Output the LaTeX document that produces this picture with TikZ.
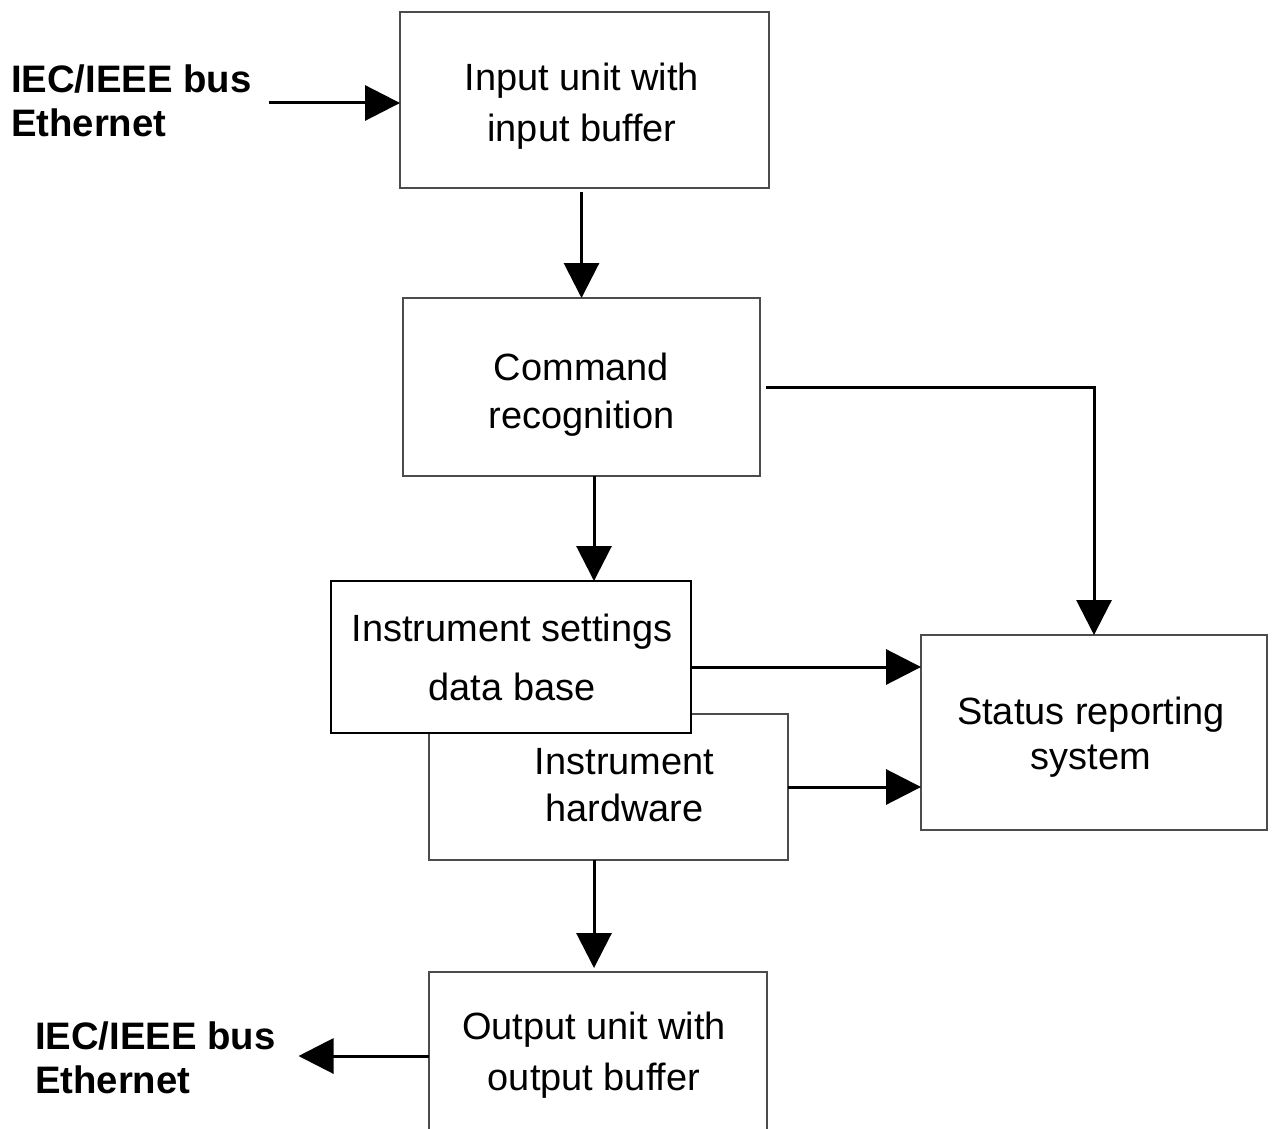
\documentclass[tikz,border=0pt]{standalone}
\usepackage{fontspec}
\setmainfont{Liberation Sans}
\usetikzlibrary{arrows.meta}
\begin{document}
\begin{tikzpicture}[x=0.02cm,y=-0.02cm,
  box/.style={draw=black!70,line width=0.025cm,fill=white,rectangle,inner sep=0,outer sep=0},
  boldbox/.style={box,draw=black,line width=0.05cm},
  txt/.style={inner sep=0,outer sep=0,align=center,font=\fontsize{21.6pt}{#1}\selectfont},
  lbl/.style={inner sep=0,outer sep=0,align=left,anchor=west,font=\fontsize{21.8pt}{#1}\selectfont\bfseries},
  arr/.style={draw=black,line width=0.06cm,-{Triangle[length=0.7cm,width=0.7cm]}}]
\useasboundingbox (0,0) rectangle (1273,1128);
\clip (0,0) rectangle (1273,1128);
% boxes
\node[box,minimum width=7.38cm,minimum height=3.52cm] (in) at (584.5,100) {};
\node[box,minimum width=7.14cm,minimum height=3.56cm] (cmd) at (581.5,387) {};
\node[box,minimum width=7.18cm,minimum height=2.92cm] (hw) at (608.5,787) {};
\node[boldbox,minimum width=7.2cm,minimum height=3.04cm] (db) at (511,657) {};
\node[box,minimum width=6.92cm,minimum height=3.9cm] (st) at (1094,732.5) {};
\node[box,minimum width=6.76cm,minimum height=3.36cm] (out) at (598,1056) {};
% texts
\node[txt=28.5pt] (intext) at (582,106) {\strut Input unit with\\\strut input buffer};
\node[txt=27.3pt] (cmdtext) at (581.5,395) {\strut Command\\\strut recognition};
\node[txt=33.6pt] (dbtext) at (512,659) {\strut Instrument settings\\\strut data base};
\node[txt=26.7pt] (hwtext) at (624.5,789) {\strut Instrument\\\strut hardware};
\node[txt=26pt] (sttext) at (1091,738) {\strut Status reporting\\\strut system};
\node[txt=28.5pt] (outtext) at (594,1055) {\strut Output unit with\\\strut output buffer};
\node[lbl=25pt] (bus1) at (11,105.5) {\strut IEC/IEEE bus\\\strut Ethernet};
\node[lbl=25pt] (bus2) at (35,1063) {\strut IEC/IEEE bus\\\strut Ethernet};
% connectors
\coordinate (c0) at ([yshift=-0.06cm]in.west);
\coordinate (c1) at ([xshift=0.25cm]cmd.south);
\coordinate (c2) at ([yshift=-0.2cm]db.east);
\coordinate (c3) at ([xshift=-0.29cm]hw.south);
\draw[arr,shorten <=0.34cm] (bus1.east |- c0) -- (c0);
\draw[arr,shorten <=0.08cm] (cmd.north |- in.south) -- (cmd.north);
\draw[arr] (c1) -- (c1 |- db.north);
\draw[arr,shorten <=0.12cm] (cmd.east) -| (st.north);
\draw[arr] (c2) -- (c2 -| st.west);
\draw[arr] (hw.east) -- (hw.east -| st.west);
\draw[arr,shorten >=0.08cm] (c3) -- (c3 |- out.north);
\draw[arr,shorten >=0.46cm] (out.west) -- (bus2.east |- out.west);
\end{tikzpicture}
\end{document}
